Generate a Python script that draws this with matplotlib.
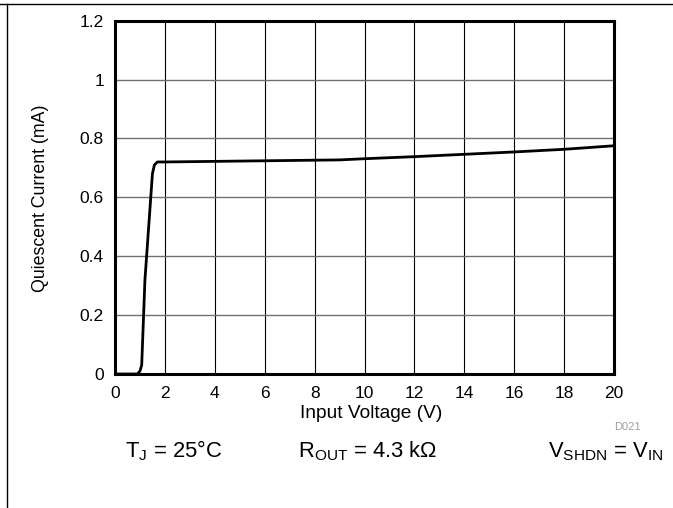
import matplotlib
matplotlib.use("Agg")
import matplotlib.pyplot as plt
from matplotlib.lines import Line2D

plt.rcParams['font.family'] = ['Liberation Sans', 'DejaVu Sans']
plt.rcParams['mathtext.fontset'] = 'custom'
plt.rcParams['mathtext.rm'] = 'Liberation Sans'
plt.rcParams['mathtext.it'] = 'Liberation Sans'

# Data
vin = [0.0, 0.9, 1.0, 1.07, 1.2, 1.35, 1.5, 1.58, 1.7, 2.0, 4.0, 6.0, 8.0, 9.0, 10.0, 12.0, 14.0, 16.0, 18.0, 20.0]
iq = [0.0, 0.0, 0.01, 0.03, 0.32, 0.50, 0.68, 0.71, 0.72, 0.72, 0.722, 0.724, 0.726, 0.727, 0.731, 0.738, 0.746, 0.754, 0.763, 0.775]
xticks = [0, 2, 4, 6, 8, 10, 12, 14, 16, 18, 20]
yticks = [0, 0.2, 0.4, 0.6, 0.8, 1.0, 1.2]
ytick_labels = ['0', '0.2', '0.4', '0.6', '0.8', '1', '1.2']

W, H = 673, 508
fig = plt.figure(figsize=(W / 100, H / 100), dpi=100)
ax = fig.add_axes([115 / W, 1 - 374 / H, (614 - 115) / W, (374 - 20.6) / H])

ax.plot(vin, iq, color='black', lw=2.0, solid_capstyle='round', zorder=3)
ax.set_xlim(0, 20)
ax.set_ylim(0, 1.2)
ax.set_xticks(xticks)
ax.set_xticklabels([str(t) for t in xticks])
ax.set_yticks(yticks)
ax.set_yticklabels(ytick_labels)
ax.tick_params(length=0, labelsize=12.5)
ax.tick_params(axis='x', pad=9)
ax.tick_params(axis='y', pad=8)
for x in xticks[1:-1]:
    ax.axvline(x, color='black', lw=0.8, zorder=1)
for y in yticks[1:-1]:
    ax.axhline(y, color='#707070', lw=1.0, zorder=1)
for s in ax.spines.values():
    s.set_linewidth(2.2)

fig.text(371 / W, 1 - 413 / H, 'Input Voltage (V)', fontsize=13.8, ha='center', va='center')
fig.text(41 / W, 1 - 198 / H, 'Quiescent Current (mA)', fontsize=12.8, ha='center', va='center', rotation=90)

fig.text(627 / W, 1 - 427 / H, 'D021', fontsize=8, color='#a0a0a0', ha='center', va='center')
fy = 1 - 457 / H
fig.text(125 / W, fy, r'T$_\mathregular{J}$ = 25°C', fontsize=15.8, ha='left', va='baseline')
fig.text(298 / W, fy, r'R$_\mathregular{OUT}$ = 4.3 kΩ', fontsize=15.8, ha='left', va='baseline')
fig.text(663 / W, fy, r'V$_\mathregular{SHDN}$ = V$_\mathregular{IN}$', fontsize=15.8, ha='right', va='baseline')

# outer frame (top and left edges)
fig.add_artist(Line2D([0, 1], [1 - 4 / H, 1 - 4 / H], transform=fig.transFigure, color='black', lw=1.0))
fig.add_artist(Line2D([7 / W, 7 / W], [0, 1 - 4 / H], transform=fig.transFigure, color='black', lw=1.0))

fig.savefig('out.png', dpi=100)
